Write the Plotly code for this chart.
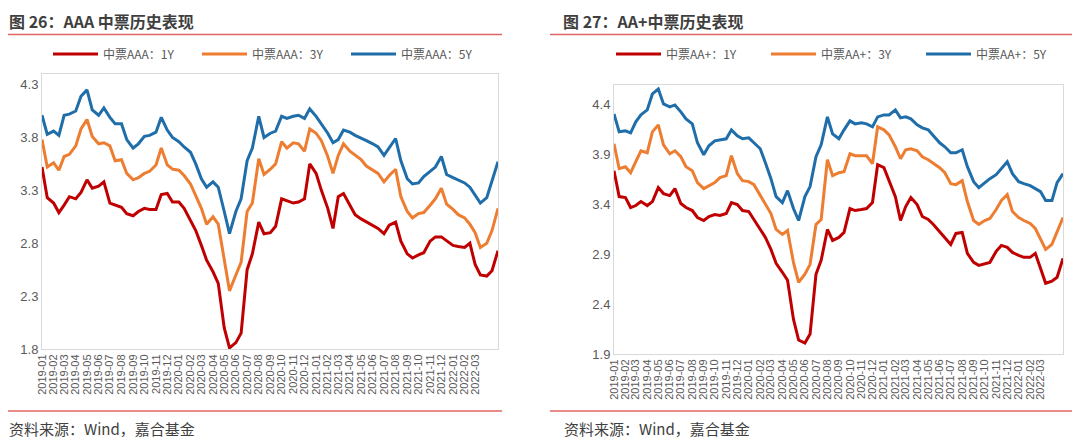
import pandas as pd
import plotly.graph_objects as go

# ---------------- data ----------------
dates = pd.date_range("2019-01-01", periods=81, freq="SMS")
tick_months = pd.date_range("2019-01-01", "2022-03-01", freq="MS")
tick_labels = [d.strftime("%Y-%m") for d in tick_months]

aaa_1y = [3.52, 3.23, 3.18, 3.09, 3.16, 3.24, 3.22, 3.28, 3.40, 3.32,
          3.34, 3.38, 3.18, 3.16, 3.14, 3.08, 3.06, 3.10, 3.13, 3.12,
          3.12, 3.26, 3.27, 3.19, 3.19, 3.13, 3.02, 2.92, 2.78, 2.64,
          2.53, 2.42, 2.00, 1.81, 1.86, 1.95, 2.55, 2.70, 3.00, 2.89,
          2.90, 2.96, 3.22, 3.20, 3.18, 3.19, 3.22, 3.55, 3.46, 3.30,
          3.13, 2.94, 3.24, 3.27, 3.16, 3.07, 3.03, 3.00, 2.97, 2.94,
          2.89, 2.97, 3.00, 2.82, 2.70, 2.66, 2.69, 2.71, 2.82, 2.86,
          2.86, 2.82, 2.78, 2.77, 2.76, 2.80, 2.60, 2.50, 2.49, 2.54,
          2.73]
aaa_3y = [3.78, 3.52, 3.56, 3.49, 3.62, 3.64, 3.72, 3.88, 3.97, 3.81,
          3.74, 3.75, 3.72, 3.58, 3.59, 3.46, 3.40, 3.42, 3.46, 3.48,
          3.54, 3.70, 3.54, 3.50, 3.49, 3.44, 3.36, 3.25, 3.13, 2.98,
          3.05, 2.98, 2.62, 2.35, 2.50, 2.62, 3.10, 3.18, 3.60, 3.45,
          3.50, 3.55, 3.76, 3.70, 3.75, 3.74, 3.67, 3.88, 3.84, 3.77,
          3.62, 3.46, 3.63, 3.74, 3.67, 3.63, 3.59, 3.53, 3.49, 3.46,
          3.38, 3.44, 3.50, 3.24, 3.10, 3.04, 3.08, 3.09, 3.16, 3.22,
          3.32, 3.17, 3.12, 3.07, 3.04, 2.98, 2.90, 2.76, 2.80, 2.92,
          3.13]
aaa_5y = [4.01, 3.83, 3.86, 3.82, 4.01, 4.02, 4.05, 4.19, 4.25, 4.06,
          4.01, 4.08, 3.99, 3.93, 3.93, 3.78, 3.70, 3.74, 3.81, 3.82,
          3.85, 3.99, 3.87, 3.80, 3.76, 3.71, 3.66, 3.55, 3.41, 3.33,
          3.38, 3.33, 3.10, 2.89, 3.10, 3.22, 3.58, 3.70, 4.00, 3.80,
          3.84, 3.86, 4.00, 3.98, 4.00, 4.01, 3.98, 4.07, 4.00, 3.93,
          3.84, 3.75, 3.78, 3.87, 3.85, 3.82, 3.79, 3.77, 3.74, 3.71,
          3.63, 3.70, 3.79, 3.58, 3.41, 3.36, 3.37, 3.43, 3.48, 3.52,
          3.62, 3.45, 3.42, 3.40, 3.37, 3.33, 3.26, 3.18, 3.23, 3.38,
          3.57]

aap_1y = [3.74, 3.48, 3.47, 3.37, 3.39, 3.43, 3.39, 3.43, 3.57, 3.51,
          3.49, 3.56, 3.41, 3.37, 3.34, 3.27, 3.24, 3.28, 3.30, 3.29,
          3.31, 3.42, 3.40, 3.34, 3.33, 3.25, 3.16, 3.07, 2.95, 2.81,
          2.72, 2.64, 2.25, 2.04, 2.01, 2.10, 2.70, 2.84, 3.15, 3.04,
          3.07, 3.12, 3.36, 3.34, 3.35, 3.36, 3.42, 3.80, 3.77, 3.63,
          3.48, 3.24, 3.38, 3.47, 3.40, 3.28, 3.25, 3.20, 3.13, 3.07,
          3.00, 3.11, 3.12, 2.91, 2.82, 2.79, 2.81, 2.82, 2.93, 2.99,
          2.97, 2.92, 2.89, 2.87, 2.87, 2.91, 2.76, 2.61, 2.63, 2.67,
          2.86]
aap_3y = [4.01, 3.76, 3.78, 3.72, 3.83, 3.94, 3.92, 4.13, 4.20, 4.00,
          3.91, 3.94, 3.88, 3.78, 3.74, 3.62, 3.56, 3.59, 3.62, 3.67,
          3.69, 3.89, 3.71, 3.64, 3.63, 3.60, 3.49, 3.40, 3.31, 3.15,
          3.10, 3.14, 2.82, 2.62, 2.70, 2.80, 3.20, 3.25, 3.85, 3.69,
          3.72, 3.73, 3.91, 3.89, 3.89, 3.89, 3.81, 4.18, 4.15, 4.10,
          3.98, 3.86, 3.95, 3.96, 3.94, 3.88, 3.85, 3.81, 3.77, 3.72,
          3.61, 3.60, 3.64, 3.43, 3.24, 3.20, 3.24, 3.26, 3.35, 3.44,
          3.50, 3.33, 3.27, 3.24, 3.21, 3.16, 3.06, 2.95, 3.00, 3.12,
          3.27]
aap_5y = [4.31, 4.13, 4.14, 4.12, 4.23, 4.30, 4.35, 4.51, 4.56, 4.41,
          4.38, 4.40, 4.33, 4.26, 4.21, 4.02, 3.90, 3.99, 4.04, 4.05,
          4.06, 4.15, 4.09, 4.06, 4.07, 4.02, 3.96, 3.82, 3.66, 3.48,
          3.42, 3.54, 3.36, 3.24, 3.48, 3.58, 3.88, 4.00, 4.28, 4.11,
          4.06, 4.15, 4.24, 4.21, 4.22, 4.21, 4.18, 4.28, 4.30, 4.30,
          4.35, 4.27, 4.28, 4.26, 4.20, 4.17, 4.15, 4.09, 4.02, 3.98,
          3.92, 3.92, 3.95, 3.78, 3.63, 3.57, 3.62, 3.66, 3.70, 3.76,
          3.83, 3.71, 3.63, 3.61, 3.59, 3.56, 3.53, 3.44, 3.44, 3.62,
          3.71]

left_names = ["中票AAA：1Y", "中票AAA：3Y", "中票AAA：5Y"]
right_names = ["中票AA+：1Y", "中票AA+：3Y", "中票AA+：5Y"]
colors = ["#C00000", "#ED7D31", "#1F6EAA"]

# page body has an 8px margin: the figure occupies page pixels 8..1080 / 8..441
OFF = 8
W, H = 1080 - OFF, 441 - OFF
CJK = "Noto Sans CJK SC"
TXT = "#595959"

def px_x(p):
    return (p - OFF) / W

def px_y(p):
    return 1 - (p - OFF) / H

# legend item positions (page pixels) - where each coloured sample begins
left_leg_x = [54, 203, 352]
right_leg_x = [617, 772, 927]
LEG_Y = 54

fig = go.Figure()
legend_layouts = {}
k = 0
for names, series, xs, xa, ya in [
        (left_names, [aaa_1y, aaa_3y, aaa_5y], left_leg_x, "x", "y"),
        (right_names, [aap_1y, aap_3y, aap_5y], right_leg_x, "x2", "y2")]:
    for name, ys, c, lx in zip(names, series, colors, xs):
        k += 1
        lg = "legend" if k == 1 else f"legend{k}"
        fig.add_trace(go.Scatter(x=dates, y=ys, name=name, mode="lines",
                                 line=dict(color=c, width=3), xaxis=xa, yaxis=ya,
                                 legend=lg))
        legend_layouts[lg] = dict(orientation="h", x=px_x(lx - 6), y=px_y(LEG_Y),
                                  xanchor="left", yanchor="middle",
                                  bgcolor="rgba(0,0,0,0)", itemwidth=45,
                                  font=dict(family=CJK, size=12, color=TXT))

xcommon = dict(type="date", range=[dates[0], dates[-1]], tickvals=list(tick_months),
               ticktext=tick_labels, tickangle=-90, showgrid=False, zeroline=False,
               showline=True, linecolor="#D9D9D9", linewidth=1, mirror=True, ticks="",
               tickfont=dict(family="Liberation Sans", size=11, color=TXT))
ycommon = dict(showgrid=False, zeroline=False, showline=True, linecolor="#D9D9D9",
               linewidth=1, mirror=True, ticks="",
               tickfont=dict(family="Liberation Sans", size=13, color=TXT))

fig.update_layout(
    width=W, height=H, margin=dict(l=0, r=0, t=0, b=0, autoexpand=False),
    paper_bgcolor="white", plot_bgcolor="white",
    xaxis=dict(domain=[px_x(42), px_x(498)], anchor="y", **xcommon),
    yaxis=dict(domain=[px_y(349), px_y(74)], anchor="x", range=[1.8, 4.4],
               tickvals=[1.8, 2.3, 2.8, 3.3, 3.8, 4.3], ticktext=["1.8", "2.3", "2.8", "3.3", "3.8", "4.3"],
               **ycommon),
    xaxis2=dict(domain=[px_x(614), px_x(1063)], anchor="y2", **xcommon),
    yaxis2=dict(domain=[px_y(354), px_y(85)], anchor="x2", range=[1.9, 4.6],
                tickvals=[1.9, 2.4, 2.9, 3.4, 3.9, 4.4], ticktext=["1.9", "2.4", "2.9", "3.4", "3.9", "4.4"],
                **ycommon),
    showlegend=True,
    **legend_layouts,
)

titles = [
    dict(text="<b>图 26：AAA 中票历史表现</b>", x=px_x(8)),
    dict(text="<b>图 27：AA+中票历史表现</b>", x=px_x(562)),
]
for a in titles:
    fig.add_annotation(text=a["text"], x=a["x"], y=1.0, xref="paper", yref="paper",
                       xanchor="left", yanchor="top", showarrow=False, borderpad=0,
                       font=dict(family=CJK, size=16, color="#3F3F3F"))

sources = [
    dict(text="资料来源：Wind，嘉合基金", x=px_x(7)),
    dict(text="资料来源：Wind，嘉合基金", x=px_x(562)),
]
for a in sources:
    fig.add_annotation(text=a["text"], x=a["x"], y=px_y(428), xref="paper", yref="paper",
                       xanchor="left", yanchor="middle", showarrow=False,
                       font=dict(family=CJK, size=15, color="#404040"))

line_style = dict(color="#E06666", width=1.5)
for x0, x1 in [(0, 502), (550, 1080)]:
    for yy in [34.5, 411]:
        fig.add_shape(type="line", xref="paper", yref="paper",
                      x0=px_x(x0), x1=px_x(x1), y0=px_y(yy), y1=px_y(yy), line=line_style)

fig.write_html("out.html")
